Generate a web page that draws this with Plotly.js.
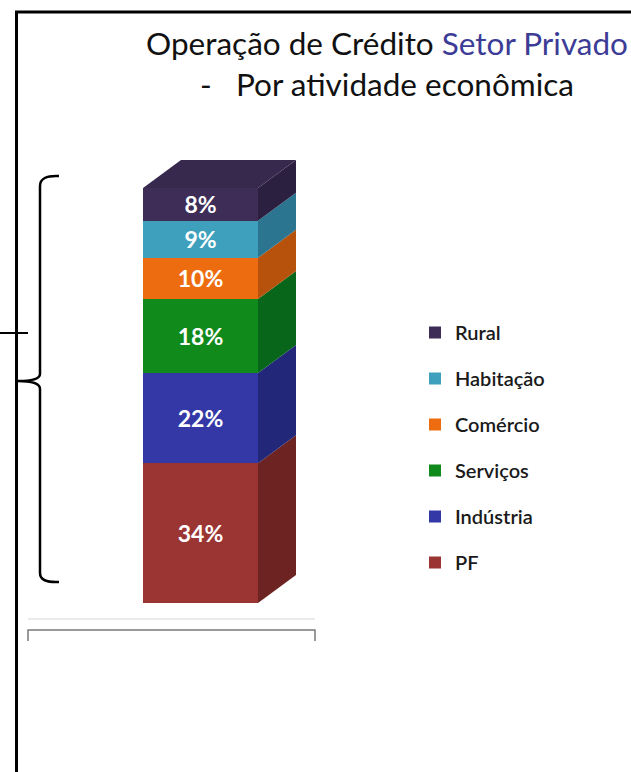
<!DOCTYPE html>
<html>
<head>
<meta charset="utf-8">
<script src="https://cdn.plot.ly/plotly-3.0.1.min.js"></script>
<style>html,body{margin:0;padding:0;background:#fff;}#chart{width:631px;height:772px;}</style>
</head>
<body>
<div id="chart"></div>
<script>
// ---- data ----
const categories = ['PF', 'Indústria', 'Serviços', 'Comércio', 'Habitação', 'Rural'];
const shares = [34, 22, 18, 10, 9, 8];
const frontColors = ['#9b3534', '#3338a6', '#118a1c', '#ee6c10', '#3ea0bd', '#3e2d57'];
const sideColors = ['#6c2322', '#23277a', '#07661a', '#b6520c', '#2b7590', '#2c2040'];
const topColor = '#37284d';
const titleMain = 'Operação de Crédito';
const titleBlue = 'Setor Privado';
const titleSub = '-\u00a0\u00a0 Por atividade econômica';

// ---- geometry (pixels of the 631x772 page) ----
const W = 631, H = 772;
const M = {l: 28, r: 316, t: 150, b: 169};
const plotW = W - M.l - M.r, plotH = H - M.t - M.b;
const barPx = 115;                  // front face width
const xMin = -1.5, xMax = xMin + plotW / barPx;
const yPerPx = 101 / 415;
const yMax = plotH * yPerPx;
const dx = 38 / barPx, dy = 28 * yPerPx;   // depth of the 3D block

const px = v => (v - M.l) / plotW;
const py = v => (M.t + plotH - v) / plotH;

const traces = categories.map((c, i) => ({
  type: 'bar', x: [0], y: [shares[i]], width: [1], name: c, legendgroup: c,
  legendrank: (categories.length - i) * 10,
  marker: {color: frontColors[i], line: {width: 0}},
  text: [shares[i] + '%'], textposition: 'inside', insidetextanchor: 'middle',
  textfont: {family: 'Lato, sans-serif', size: 23, color: '#ffffff', weight: 'bold'},
  constraintext: 'none', hoverinfo: 'name+y'
}));

// side faces and top face, drawn in data coordinates from the cumulative shares
const shapes = [];
let base = 0;
shares.forEach((v, i) => {
  const b = base, t = base + v, x1 = 0.5;
  shapes.push({type: 'path', xref: 'x', yref: 'y', layer: 'below',
    path: `M${x1},${b} L${x1 + dx},${b + dy} L${x1 + dx},${t + dy} L${x1},${t} Z`,
    fillcolor: sideColors[i], line: {width: 0}});
  base = t;
});
shapes.push({type: 'path', xref: 'x', yref: 'y', layer: 'below',
  path: `M-0.5,${base} L${-0.5 + dx},${base + dy} L${0.5 + dx},${base + dy} L0.5,${base} Z`,
  fillcolor: topColor, line: {width: 0}});

// decorations (page frame, brace, floor line)
const P = (x, y) => px(x) + ',' + py(y);
shapes.push({type: 'line', xref: 'paper', yref: 'paper', x0: px(15), x1: px(640), y0: py(12), y1: py(12), line: {color: '#000', width: 3}});
shapes.push({type: 'line', xref: 'paper', yref: 'paper', x0: px(16.5), x1: px(16.5), y0: py(11), y1: py(780), line: {color: '#000', width: 3}});
shapes.push({type: 'line', xref: 'paper', yref: 'paper', x0: px(-2), x1: px(28), y0: py(333), y1: py(333), line: {color: '#000', width: 2}});
shapes.push({type: 'path', xref: 'paper', yref: 'paper',
  path: `M${P(59, 176)} Q${P(40, 175)} ${P(40, 186)} L${P(40, 374)} Q${P(40, 381)} ${P(18, 381)} Q${P(40, 381)} ${P(40, 389)} L${P(40, 573)} Q${P(40, 583)} ${P(59, 582)}`,
  line: {color: '#000', width: 2.5}});
shapes.push({type: 'line', xref: 'paper', yref: 'paper', x0: px(28), x1: px(315), y0: py(619), y1: py(619), line: {color: '#e4e4e4', width: 1.5}});
shapes.push({type: 'path', xref: 'paper', yref: 'paper',
  path: `M${P(28, 641)} L${P(28, 630)} L${P(315, 630)} L${P(315, 641)}`,
  line: {color: '#7a7a7a', width: 1.5}});

const layout = {
  width: W, height: H,
  margin: M,
  paper_bgcolor: '#ffffff', plot_bgcolor: 'rgba(0,0,0,0)',
  barmode: 'stack',
  showlegend: true,
  title: {
    text: titleMain + ' <span style="color:#3c3c96">' + titleBlue + '</span><br>' + titleSub,
    font: {family: 'Lato, sans-serif', size: 31.5, color: '#111111'},
    xref: 'container', yref: 'container', x: 387 / W, xanchor: 'center',
    y: 1 - 55 / H, yanchor: 'top'
  },
  xaxis: {range: [xMin, xMax], visible: false, fixedrange: true},
  yaxis: {range: [0, yMax], visible: false, fixedrange: true},
  legend: {
    x: px(415), xanchor: 'left', y: py(313), yanchor: 'top',
    traceorder: 'grouped', tracegroupgap: 17,
    font: {family: 'Lato, sans-serif', size: 20, color: '#1a1a1a', weight: 600},
    bgcolor: 'rgba(0,0,0,0)', itemclick: false
  },
  shapes: shapes
};

Plotly.newPlot('chart', traces, layout, {displayModeBar: false, staticPlot: true});
</script>
</body>
</html>
